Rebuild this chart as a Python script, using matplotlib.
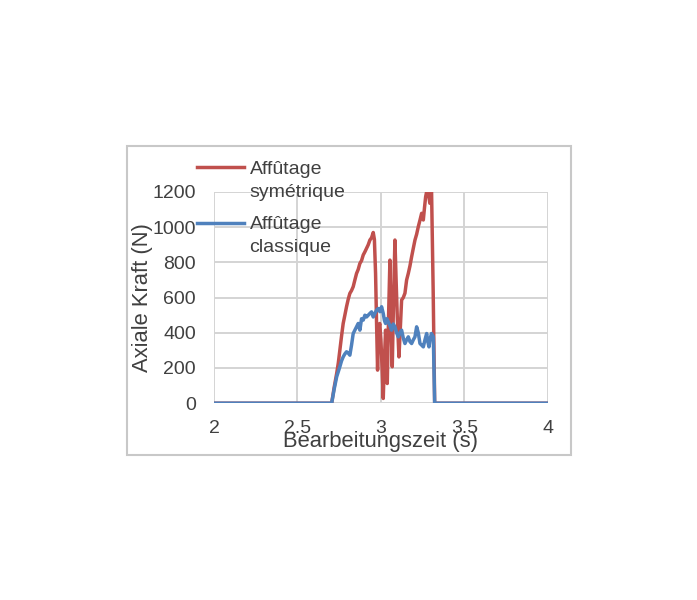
import numpy as np
import matplotlib.pyplot as plt
from matplotlib.patches import Rectangle
from matplotlib.legend_handler import HandlerLine2D

plt.rcParams['font.family'] = ['Liberation Sans', 'DejaVu Sans']

# values
t_sym = [2.0, 2.705, 2.72, 2.735, 2.745, 2.754, 2.764, 2.774, 2.784, 2.794, 2.804,
         2.814, 2.824, 2.834, 2.844, 2.854, 2.864, 2.874, 2.884, 2.894, 2.904,
         2.914, 2.924, 2.934, 2.944, 2.954, 2.961, 2.968, 2.974, 2.980, 2.986,
         2.993, 3.000, 3.007, 3.014, 3.021, 3.028, 3.038, 3.046, 3.054, 3.061,
         3.068, 3.076, 3.084, 3.091, 3.098, 3.108, 3.116, 3.124, 3.134, 3.144,
         3.154, 3.164, 3.174, 3.184, 3.194, 3.204, 3.214, 3.224, 3.234, 3.244,
         3.254, 3.261, 3.268, 3.280, 3.293, 3.303, 3.313, 3.322, 4.0]
f_sym = [0, 0, 90, 169, 230, 301, 380, 453, 500, 548, 590,
         624, 640, 662, 700, 737, 760, 794, 810, 842, 860,
         880, 900, 927, 940, 970, 930, 737, 453, 188, 420,
         453, 360, 200, 27, 250, 415, 112, 500, 813, 450,
         207, 600, 927, 700, 491, 263, 420, 586, 600, 625,
         700, 737, 780, 832, 880, 927, 960, 1003, 1040, 1079,
         1041, 1110, 1173, 1230, 1136, 1230, 643, 0, 0]

t_cla = [2.0, 2.705, 2.72, 2.735, 2.745, 2.754, 2.764, 2.774, 2.784, 2.794, 2.804,
         2.814, 2.824, 2.834, 2.844, 2.854, 2.864, 2.874, 2.884, 2.894, 2.904,
         2.914, 2.924, 2.934, 2.944, 2.954, 2.964, 2.974, 2.984, 2.994, 3.004,
         3.014, 3.021, 3.028, 3.036, 3.044, 3.054, 3.064, 3.074, 3.084, 3.094,
         3.104, 3.114, 3.124, 3.134, 3.144, 3.154, 3.164, 3.174, 3.184, 3.194,
         3.204, 3.214, 3.224, 3.234, 3.244, 3.254, 3.264, 3.274, 3.281, 3.288,
         3.296, 3.303, 3.314, 3.322, 4.0]
f_cla = [0, 0, 80, 150, 180, 207, 240, 263, 280, 292, 285,
         273, 330, 396, 415, 434, 453, 415, 480, 472, 500,
         490, 500, 510, 519, 490, 510, 529, 538, 520, 548,
         510, 470, 453, 480, 462, 440, 415, 450, 434, 400,
         377, 400, 415, 370, 339, 360, 377, 350, 339, 360,
         377, 434, 400, 339, 330, 320, 360, 396, 350, 320,
         370, 396, 377, 0, 0]


class FirstLineHandler(HandlerLine2D):
    # put the legend line next to the first text line, as Excel does
    def create_artists(self, *args, **kwargs):
        arts = super().create_artists(*args, **kwargs)
        for a in arts:
            a.set_ydata(np.asarray(a.get_ydata()) + 9.5)
        return arts


fig = plt.figure(figsize=(6.97, 6.0), dpi=100)
ax = fig.add_axes([0.307, 0.328, 0.479, 0.352])

ax.plot(t_sym, f_sym, color='#c0504d', lw=2.5, label='Affûtage\nsymétrique')
ax.plot(t_cla, f_cla, color='#4f81bd', lw=2.5, label='Affûtage\nclassique')

ax.set_xlim(2, 4)
ax.set_ylim(0, 1200)
ax.set_xticks([2, 2.5, 3, 3.5, 4])
ax.set_xticklabels(['2', '2.5', '3', '3.5', '4'])
ax.set_yticks(range(0, 1201, 200))
ax.grid(True, color='#d4d4d4', lw=1.4)
ax.set_axisbelow(True)
for s in ax.spines.values():
    s.set_visible(False)
ax.tick_params(length=0, labelsize=14, colors='#404040')
ax.tick_params(axis='y', pad=13)
ax.tick_params(axis='x', pad=12)

ax.set_xlabel('Bearbeitungszeit (s)', fontsize=15.8, color='#404040')
ax.xaxis.set_label_coords(0.5, -0.13)
ax.xaxis.label.set_va('top')
ax.set_ylabel('Axiale Kraft (N)', fontsize=15.8, color='#404040')
ax.yaxis.set_label_coords(-0.183, 0.5)

leg = ax.legend(loc='upper left', bbox_to_anchor=(197 / 697, 1 - 161 / 600),
                bbox_transform=fig.transFigure, frameon=False, fontsize=14,
                handlelength=2.4, handletextpad=0.3, labelspacing=0.8,
                borderpad=0, borderaxespad=0,
                handler_map={plt.Line2D: FirstLineHandler()})
for txt in leg.get_texts():
    txt.set_color('#404040')
    txt.set_linespacing(1.45)

fig.add_artist(Rectangle((0.182, 0.242), 0.637, 0.515, transform=fig.transFigure,
                         fill=False, edgecolor='#c8c8c8', lw=1.5))

fig.savefig('out.png', dpi=100)
